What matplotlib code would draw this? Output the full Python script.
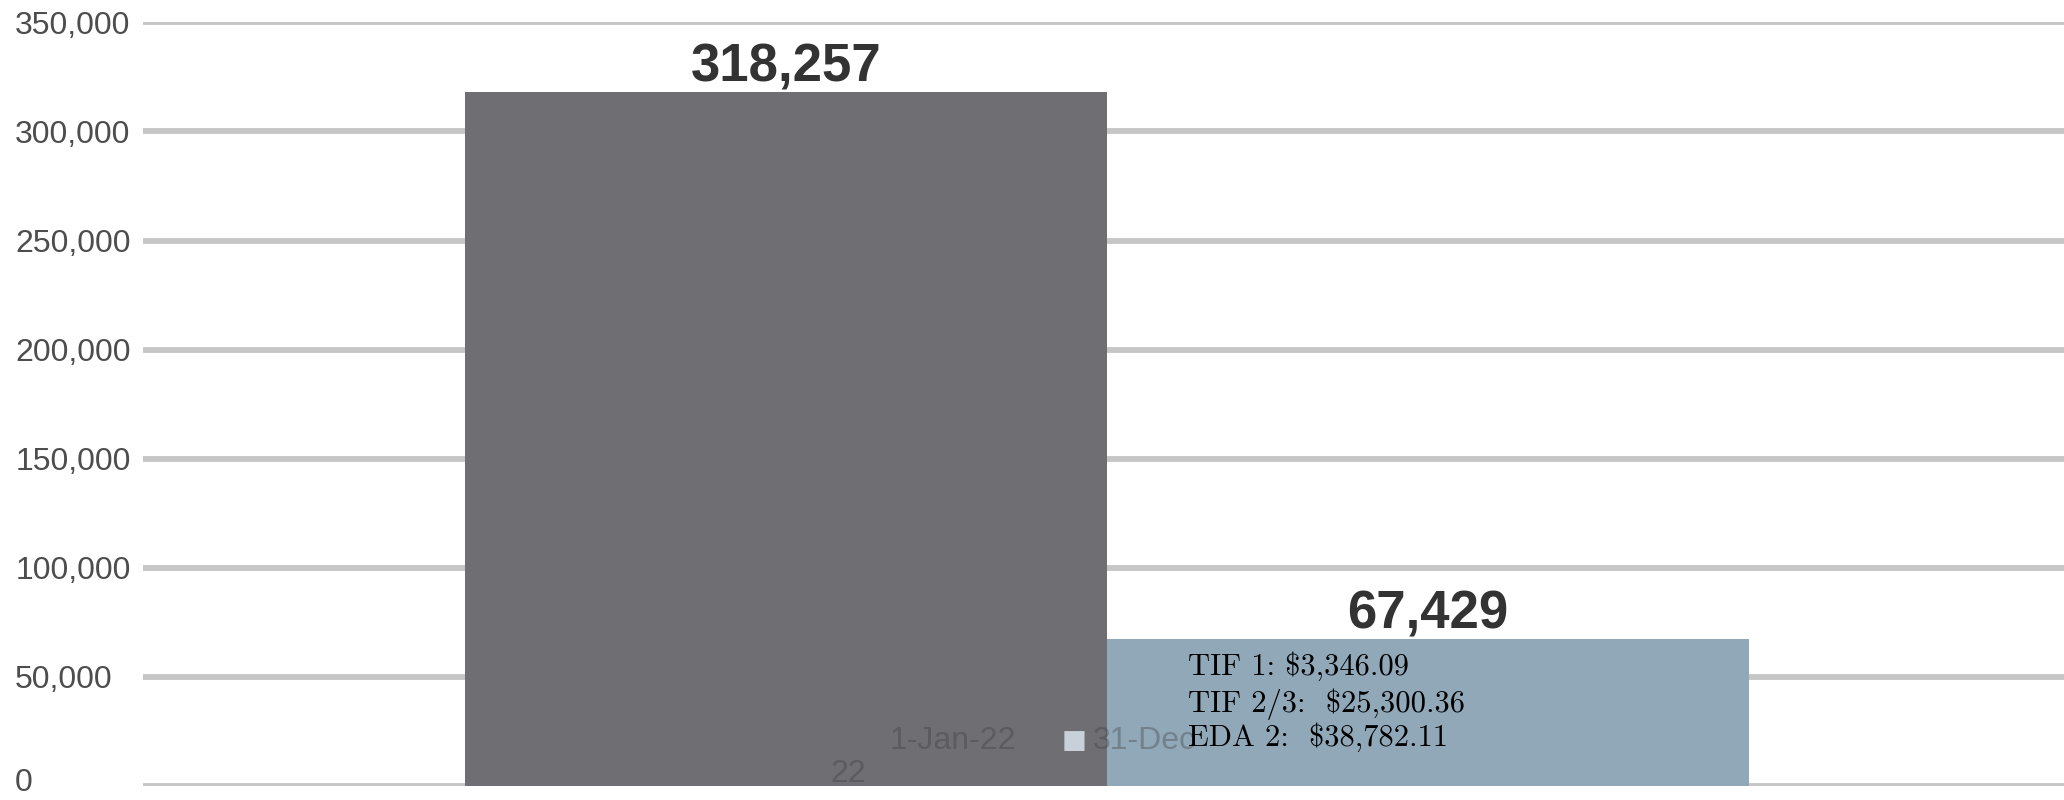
import matplotlib
matplotlib.use("Agg")
import matplotlib.pyplot as plt
import matplotlib.transforms as mtransforms
from matplotlib.ticker import FuncFormatter

# ---- data ----
series_labels = ["1-Jan-22", "31-Dec-22"]
values = [318257, 67429]
bar_colors = ["#6f6e73", "#90a8b8"]
yticks = [0, 50000, 100000, 150000, 200000, 250000, 300000, 350000]
note_lines = ["TIF 1: $3,346.09", "TIF 2/3:  $25,300.36", "EDA 2:  $38,782.11"]
note_y = [50800, 33900, 18300]

W, H, DPI = 20.64, 8.0, 100
fig = plt.figure(figsize=(W, H), dpi=DPI)
left_px, right_px, top_px, bot_px = 143, 2064, 22.4, 786
ax = fig.add_axes([left_px / 2064, 1 - bot_px / 800,
                   (right_px - left_px) / 2064, (bot_px - top_px) / 800])

bar_w = 0.334
offsets = [-bar_w / 2, bar_w / 2]
for i, (v, c) in enumerate(zip(values, bar_colors)):
    ax.bar(offsets[i], v, width=bar_w, color=c, zorder=2, linewidth=0)
    ax.annotate(f"{v:,}", xy=(offsets[i], v), xytext=(0, 7.5),
                textcoords="offset points", ha="center", va="baseline",
                fontsize=38, fontweight="bold", color="#333333",
                family="Liberation Sans", zorder=5)

ax.set_xlim(-0.5018, 0.4982)
ax.set_ylim(0, 350000)
ax.set_yticks(yticks)
ax.yaxis.set_major_formatter(FuncFormatter(lambda v, p: f"{int(v):,}"))
ax.set_xticks([])
ax.grid(axis="y", color="#c6c6c6", linewidth=4.2, zorder=0)
ax.set_axisbelow(True)
for s in ax.spines.values():
    s.set_visible(False)
ax.tick_params(axis="y", length=0, pad=92, labelsize=23, labelcolor="#4d4d4d")
for lab in ax.get_yticklabels():
    lab.set_horizontalalignment("left")
    lab.set_family("Liberation Sans")

# keep the bottom "0" label inside the figure edge
zero_tick = ax.yaxis.get_major_ticks()[0]
zero_tick.label1.set_transform(
    zero_tick.label1.get_transform()
    + mtransforms.ScaledTranslation(0, 0.065, fig.dpi_scale_trans))

# faded legend (drawn over the bars, as in the reference)
leg_kw = dict(fontsize=23, family="Liberation Sans", color="#3a3a3a",
              alpha=0.35, va="center", ha="left", zorder=3)
ax.text(-0.113, 20600, series_labels[0], **leg_kw)
ax.text(-0.0235, 20600, "\u25a0", fontsize=19, family="DejaVu Sans",
        color="#d3dde5", va="center", ha="left", zorder=3, alpha=0.9)
ax.text(-0.0073, 20600, series_labels[1][:6], **leg_kw)
ax.text(-0.144, 5500, series_labels[1][7:], **leg_kw)

# note on second bar
for line, y in zip(note_lines, note_y):
    ax.text(0.042, y, line, fontsize=22, family=["cmr10", "DejaVu Serif"],
            color="black", ha="left", va="baseline", zorder=6, parse_math=False)

fig.savefig("out.png", dpi=DPI)
